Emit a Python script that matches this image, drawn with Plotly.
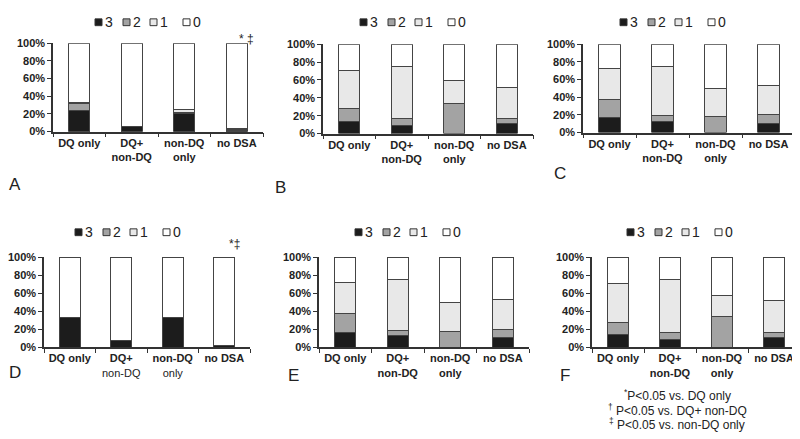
import plotly.graph_objects as go
from plotly.subplots import make_subplots

# the page body margin places the figure 8px in from the window's top-left corner
OFF_X, OFF_Y = 8, 8
W, H = 800 - OFF_X, 439 - OFF_Y

categories = ["DQ only", "DQ+ non-DQ", "non-DQ only", "no DSA"]
tick_labels = ["DQ only", "DQ+<br>non-DQ", "non-DQ<br>only", "no DSA"]
tick_labels_d = ["<b>DQ only</b>", "<b>DQ+</b><br>non-DQ", "<b>non-DQ</b><br>only", "<b>no DSA</b>"]
pct_ticks = [0, 20, 40, 60, 80, 100]
pct_labels = ["0%", "20%", "40%", "60%", "80%", "100%"]
grades = ["3", "2", "1", "0"]
grade_colors = ["#1c1c1c", "#a3a3a3", "#e8e8e8", "#ffffff"]

# percent of patients per grade (3, 2, 1, 0) for each DSA group
a_g3 = [24, 6, 21, 1]
a_g2 = [8, 0, 1, 1]
a_g1 = [0.5, 0, 3, 1]
a_g0 = [67.5, 94, 75, 97]

b_g3 = [14, 9, 0, 11]
b_g2 = [14, 8, 34, 6]
b_g1 = [43, 58, 25, 35]
b_g0 = [29, 25, 41, 48]

c_g3 = [17, 13, 0, 10]
c_g2 = [20, 6, 18, 10]
c_g1 = [35, 56, 32, 33]
c_g0 = [28, 25, 50, 47]

d_g3 = [33, 8, 33, 2]
d_g2 = [0, 0, 0, 0]
d_g1 = [0, 0, 0, 0]
d_g0 = [67, 92, 67, 98]

e_g3 = [17, 13, 0, 11]
e_g2 = [20, 6, 18, 9]
e_g1 = [35, 56, 32, 33]
e_g0 = [28, 25, 50, 47]

f_g3 = [14, 9, 0, 11]
f_g2 = [14, 8, 34, 5]
f_g1 = [43, 58, 24, 36]
f_g0 = [29, 25, 42, 48]

panels = [
    ("A", [a_g3, a_g2, a_g1, a_g0]),
    ("B", [b_g3, b_g2, b_g1, b_g0]),
    ("C", [c_g3, c_g2, c_g1, c_g0]),
    ("D", [d_g3, d_g2, d_g1, d_g0]),
    ("E", [e_g3, e_g2, e_g1, e_g0]),
    ("F", [f_g3, f_g2, f_g1, f_g0]),
]

# window-pixel geometry: x axis left/right, y axis top/bottom
boxes = {
    "A": (53, 263, 38, 129),
    "B": (323, 533, 39, 131),
    "C": (583, 795, 39, 130),
    "D": (44, 250, 258, 351),
    "E": (319, 529, 258, 351),
    "F": (592, 800, 258, 351),
}
legend_pos = {"A": (95, 16), "B": (360, 16), "C": (620, 16),
              "D": (75, 232), "E": (355, 232), "F": (627, 232)}
letter_pos = {"A": (15, 183), "B": (280, 186), "C": (560, 172),
              "D": (15, 377), "E": (293, 380), "F": (565, 380)}
legend_offsets = [0, 28, 55, 88]

FONT = "Liberation Sans, Arial, sans-serif"
INK = "#222222"


def px(x):
    return (x - OFF_X) / W


def py(y):
    return 1 - (y - OFF_Y) / H


fig = make_subplots(rows=2, cols=3)

for i, (name, series) in enumerate(panels):
    row, col = i // 3 + 1, i % 3 + 1
    labels = tick_labels_d if name == "D" else tick_labels
    for g, vals, color in zip(grades, series, grade_colors):
        fig.add_trace(go.Bar(
            x=labels,
            y=vals,
            name=g,
            width=0.4,
            marker=dict(color=color, line=dict(color="#444", width=1)),
            showlegend=False,
        ), row=row, col=col)

    x0, x1, y0, y1 = boxes[name]
    fig.update_xaxes(
        domain=[px(x0), min(px(x1), 1)],
        type="category",
        range=[-0.5, 3.5],
        tickson="boundaries",
        ticks="outside",
        ticklen=4,
        tickcolor="#333",
        tickangle=0,
        showline=True,
        linecolor="#333",
        linewidth=1.5,
        showgrid=False,
        zeroline=False,
        tickfont=dict(family=FONT, size=11, color=INK,
                      weight="normal" if name == "D" else "bold"),
        row=row, col=col,
    )
    fig.update_yaxes(
        domain=[py(y1), min(py(y0), 1)],
        range=[0, 100],
        tickmode="array",
        tickvals=pct_ticks,
        ticktext=pct_labels,
        ticks="outside",
        ticklen=4,
        tickcolor="#333",
        showline=True,
        linecolor="#333",
        linewidth=1.5,
        showgrid=False,
        zeroline=False,
        tickfont=dict(family=FONT, size=11, color=INK, weight="bold"),
        row=row, col=col,
    )

    # hand-drawn legend row
    lx, ly = legend_pos[name]
    for off, g, color in zip(legend_offsets, grades, grade_colors):
        fig.add_shape(type="rect", xref="paper", yref="paper",
                      x0=px(lx + off), x1=px(lx + off + 7),
                      y0=py(ly + 4), y1=py(ly - 3),
                      fillcolor=color, line=dict(color="#333", width=1))
        fig.add_annotation(x=px(lx + off + 8), y=py(ly), xref="paper", yref="paper",
                           text=g, showarrow=False, xanchor="left", yanchor="middle",
                           font=dict(family=FONT, size=14, color=INK))

    tx, ty = letter_pos[name]
    fig.add_annotation(x=px(tx), y=py(ty), xref="paper", yref="paper",
                       text=name, showarrow=False, xanchor="center", yanchor="middle",
                       font=dict(family=FONT, size=17, color=INK))

# significance marks
fig.add_annotation(x=px(237), y=py(24), xref="paper", yref="paper", text="* ‡",
                   showarrow=False, font=dict(family=FONT, size=12, color=INK))
fig.add_annotation(x=px(227), y=py(245), xref="paper", yref="paper", text="*‡",
                   showarrow=False, font=dict(family=FONT, size=12, color=INK))

footnotes = [
    "<sup>*</sup>P&lt;0.05 vs. DQ only",
    "<sup>†</sup> P&lt;0.05 vs. DQ+ non-DQ",
    "<sup>‡</sup> P&lt;0.05 vs. non-DQ only",
]
for k, line in enumerate(footnotes):
    fig.add_annotation(x=px(677), y=py(400 + 15 * k), xref="paper", yref="paper",
                       text=line, showarrow=False, xanchor="center", yanchor="middle",
                       font=dict(family=FONT, size=12, color=INK))

fig.update_layout(
    width=W,
    height=H,
    barmode="stack",
    margin=dict(l=0, r=0, t=0, b=0),
    paper_bgcolor="white",
    plot_bgcolor="white",
    font=dict(family=FONT, color=INK),
)

fig.write_html("out.html")
